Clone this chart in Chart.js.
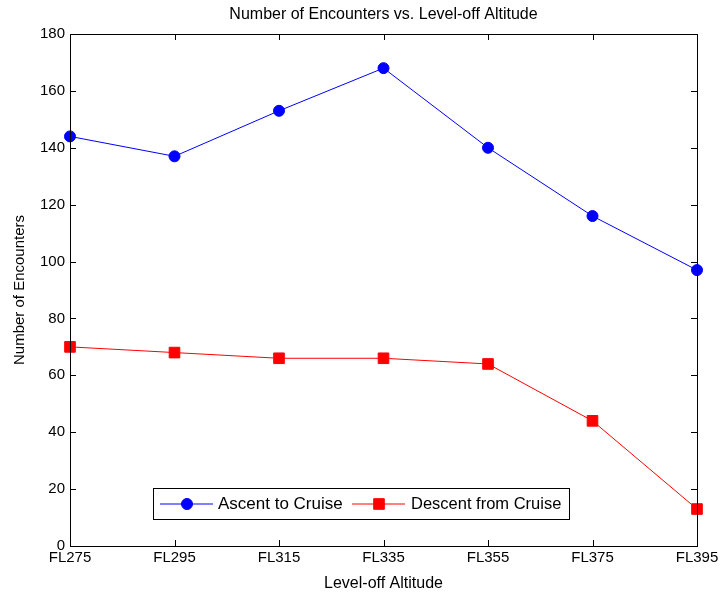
<!DOCTYPE html>
<html>
<head>
<meta charset="utf-8">
<script src="https://cdn.jsdelivr.net/npm/chart.js@4/dist/chart.umd.min.js"></script>
<style>
  body { margin: 0; background: #fff; }
  #wrap { width: 725px; height: 592px; }
</style>
</head>
<body>
<div id="wrap"><canvas id="line-chart" width="725" height="592"></canvas></div>
<script>
(function () {
  'use strict'

var altitudes = ['FL275', 'FL295', 'FL315', 'FL335', 'FL355', 'FL375', 'FL395'];
var ascent = [144, 137, 153, 168, 140, 116, 97];
var descent = [70, 68, 66, 66, 64, 44, 13];
var yTicks = [0, 20, 40, 60, 80, 100, 120, 140, 160, 180];

var FONT = 'Liberation Sans';

// box round the plot + ticks pointing inward, like matlab
var boxPlugin = {
  id: 'box',
  afterDraw: function (chart) {
    var ctx = chart.ctx;
    var a = chart.chartArea;
    var xs = chart.scales.x, ys = chart.scales.y;
    ctx.save();
    ctx.strokeStyle = '#000';
    ctx.lineWidth = 1;
    ctx.strokeRect(Math.round(a.left) + 0.5, Math.round(a.top) + 0.5,
      Math.round(a.right - a.left), Math.round(a.bottom - a.top));
    ctx.beginPath();
    var L = 6;
    xs.ticks.forEach(function (t, i) {
      var px = Math.round(xs.getPixelForTick(i)) + 0.5;
      ctx.moveTo(px, a.bottom); ctx.lineTo(px, a.bottom - L);
      ctx.moveTo(px, a.top); ctx.lineTo(px, a.top + L);
    });
    ys.ticks.forEach(function (t, i) {
      var py = Math.round(ys.getPixelForTick(i)) + 0.5;
      ctx.moveTo(a.left, py); ctx.lineTo(a.left + L, py);
      ctx.moveTo(a.right, py); ctx.lineTo(a.right - L, py);
    });
    ctx.stroke();

    // legend box inside the plot
    var bx = 153, by = 488, bw = 416, bh = 31;
    ctx.fillStyle = '#fff';
    ctx.fillRect(bx, by, bw, bh);
    ctx.strokeRect(bx + 0.5, by + 0.5, bw, bh);
    var cy = by + bh / 2;
    var items = [[160, 218, 17], [352, 411, 16.5]];
    chart.data.datasets.forEach(function (ds, i) {
      var x0 = items[i][0];
      ctx.strokeStyle = ds.borderColor;
      ctx.fillStyle = ds.borderColor;
      ctx.beginPath();
      ctx.moveTo(x0, cy + 0.5); ctx.lineTo(x0 + 53, cy + 0.5);
      ctx.stroke();
      Chart.helpers.drawPoint(ctx, {
        pointStyle: ds.pointStyle, radius: ds.pointRadius, borderWidth: 1
      }, x0 + 27, cy + 0.5);
      ctx.fillStyle = '#000';
      ctx.font = items[i][2] + 'px "' + FONT + '"';
      ctx.textBaseline = 'middle';
      ctx.fillText(ds.label, items[i][1], cy + 1);
    });
    ctx.restore();
  }
};

var data = {
  labels: altitudes,
  datasets: [{
      data: ascent,
      label: 'Ascent to Cruise',
      borderColor: '#0000ff',
      backgroundColor: '#0000ff',
      pointBackgroundColor: '#0000ff',
      pointStyle: 'circle',
      pointRadius: 5.5,
      borderWidth: 1,
      fill: false
    },
    {
      data: descent,
      label: 'Descent from Cruise',
      borderColor: '#ff0000',
      backgroundColor: '#ff0000',
      pointBackgroundColor: '#ff0000',
      pointStyle: 'rect',
      pointRadius: 7.5,
      borderWidth: 1,
      fill: false
    }
  ]
};

Chart.defaults.font.family = FONT;
Chart.defaults.color = '#000';

var chart = new Chart(document.getElementById('line-chart'), {
  type: 'line',
  data: data,
  plugins: [boxPlugin],
  options: {
    responsive: false,
    animation: false,
    layout: { padding: { left: 0, right: 28, top: 0, bottom: 0 } },
    plugins: {
      legend: { display: false },
      tooltip: { enabled: false },
      title: {
        display: true,
        fullSize: false,
        text: 'Number of Encounters vs. Level-off Altitude',
        font: { size: 16, weight: 'normal' },
        color: '#000',
        padding: { top: 5.4, bottom: 9.4 }
      }
    },
    scales: {
      x: {
        offset: false,
        grid: { display: false, drawTicks: false },
        border: { display: false },
        ticks: { font: { size: 15 }, padding: 3, maxRotation: 0, autoSkip: false },
        title: { display: true, text: 'Level-off Altitude', font: { size: 16, lineHeight: 1 }, padding: { top: 0, bottom: 0 } },
        afterFit: function (s) { s.height = 46; }
      },
      y: {
        min: 0, max: 180,
        afterBuildTicks: function (s) { s.ticks = yTicks.map(function (v) { return { value: v }; }); },
        grid: { display: false, drawTicks: false },
        border: { display: false },
        ticks: { font: { size: 15 }, padding: 5 },
        title: { display: true, text: 'Number of Encounters', font: { size: 15 }, padding: { top: 11, bottom: 0 } },
        afterFit: function (s) { s.width = 70; }
      }
    }
  }
});

})()
</script>
</body>
</html>
